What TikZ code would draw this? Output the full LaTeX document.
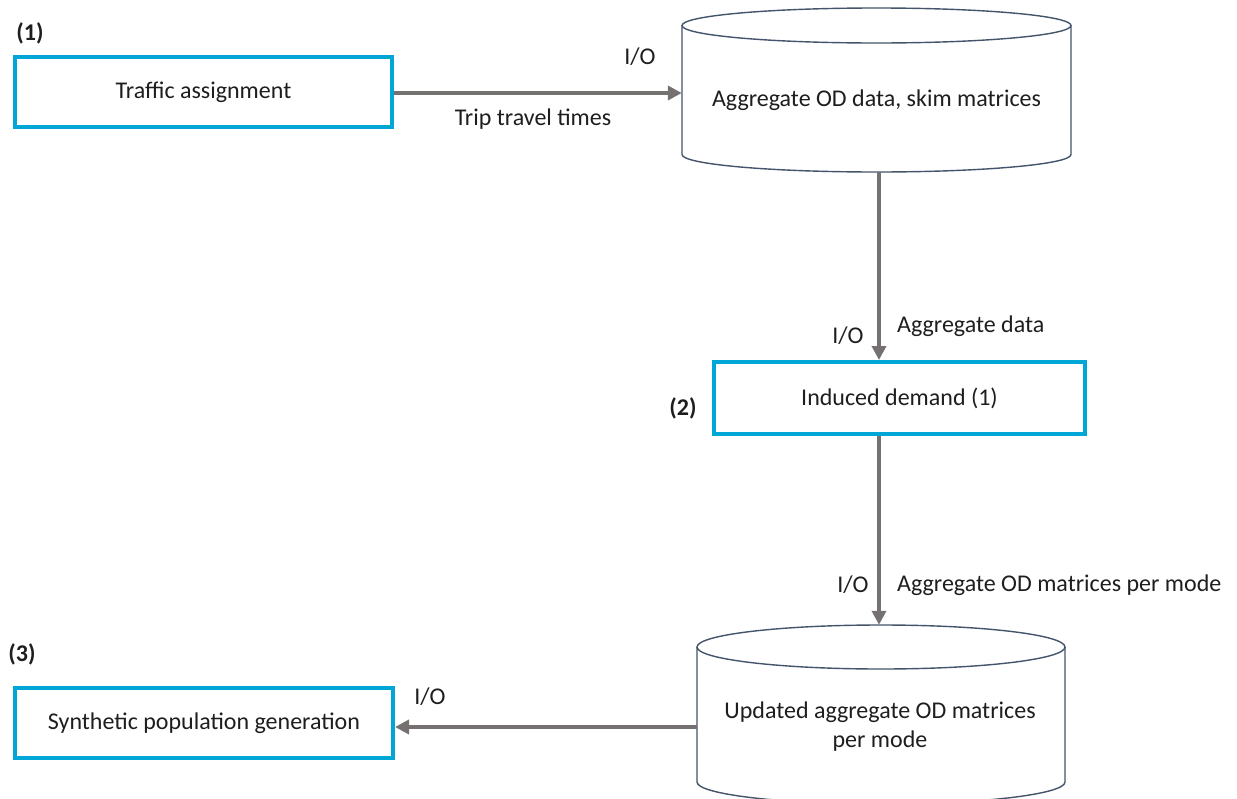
\documentclass[tikz,border=0pt]{standalone}
\usepackage{fontspec}
\setmainfont{Carlito}
\usetikzlibrary{arrows.meta}
\definecolor{boxblue}{RGB}{0,166,214}
\definecolor{arrgray}{RGB}{118,113,113}
\definecolor{cylline}{RGB}{68,84,106}
\definecolor{txt}{RGB}{30,30,30}
\tikzset{
  procbox/.style={draw=boxblue, line width=4pt, fill=white, inner sep=0pt, text=txt},
  cylbox/.style={draw=none, inner sep=0pt, text=txt, align=center},
  cylline/.style={draw=cylline, line width=1.4pt},
  flow/.style={draw=arrgray, line width=4pt, -{Triangle[length=14pt,width=14pt]}},
  lbl/.style={text=txt, inner sep=0pt},
  numlbl/.style={text=txt, inner sep=0pt, font=\fontsize{24}{29}\selectfont\bfseries},
}
\begin{document}
\begin{tikzpicture}[x=1pt, y=-1pt, font=\fontsize{24}{29}\selectfont]
\useasboundingbox[fill=white] (0,0) rectangle (1237,798);

% cylinder 1: x 682..1071, top 8, bottom 172, ry 17.5
\draw[cylline] (682,25.5) -- (682,154.5) arc[start angle=180, end angle=360, x radius=194.5pt, y radius=17.5pt] -- (1071,25.5);
\draw[cylline] (876.5,25.5) ellipse [x radius=194.5pt, y radius=17.5pt];
\node[cylbox, minimum width=389pt, minimum height=164pt] (c1) at (876.5,90) {};
\node[lbl] (c1t) at (876.5,100) {Aggregate OD data, skim matrices};

% cylinder 2: x 697..1065, top 625, ry 22
\draw[cylline] (697,647) -- (697,782) arc[start angle=180, end angle=360, x radius=184pt, y radius=22pt] -- (1065,647);
\draw[cylline] (881,647) ellipse [x radius=184pt, y radius=22pt];
\node[cylbox, minimum width=368pt, minimum height=179pt] (c2) at (881,714.5) {};
\node[lbl, align=center] (c2t) at (880,727) {Updated aggregate OD matrices\\per mode};

% process boxes
\node[procbox, minimum width=377pt, minimum height=70pt] (a1) at (203.5,92) {Traffic assignment};
\node[procbox, minimum width=371pt, minimum height=72pt] (a2) at (899.5,398) {Induced demand (1)};
\node[procbox, minimum width=378pt, minimum height=70pt] (a3) at (204,723) {Synthetic population generation};

% numbers
\node[numlbl] (n1) at (30,33) {(1)};
\node[numlbl] (n2) at (683,408) {(2)};
\node[numlbl] (n3) at (22,654) {(3)};

% connectors
\draw[flow] (a1.east |- 0,93) -- (c1.west |- 0,93);
\draw[flow] (c1.south -| 879,0) -- (a2.north -| 879,0);
\draw[flow] (a2.south -| 879,0) -- (c2.north -| 879,0);
\draw[flow] (c2.west |- 0,727) -- (a3.east |- 0,727);

% connector labels
\node[lbl] (io1) at (640,57) {I/O};
\node[lbl] (l1) at (533,119) {Trip travel times};
\node[lbl] (io2) at (848,336) {I/O};
\node[lbl, anchor=west] (l2) at (897,326) {Aggregate data};
\node[lbl] (io3) at (853,585) {I/O};
\node[lbl, anchor=west] (l3) at (897,585) {Aggregate OD matrices per mode};
\node[lbl] (io4) at (430,697) {I/O};
\end{tikzpicture}
\end{document}
